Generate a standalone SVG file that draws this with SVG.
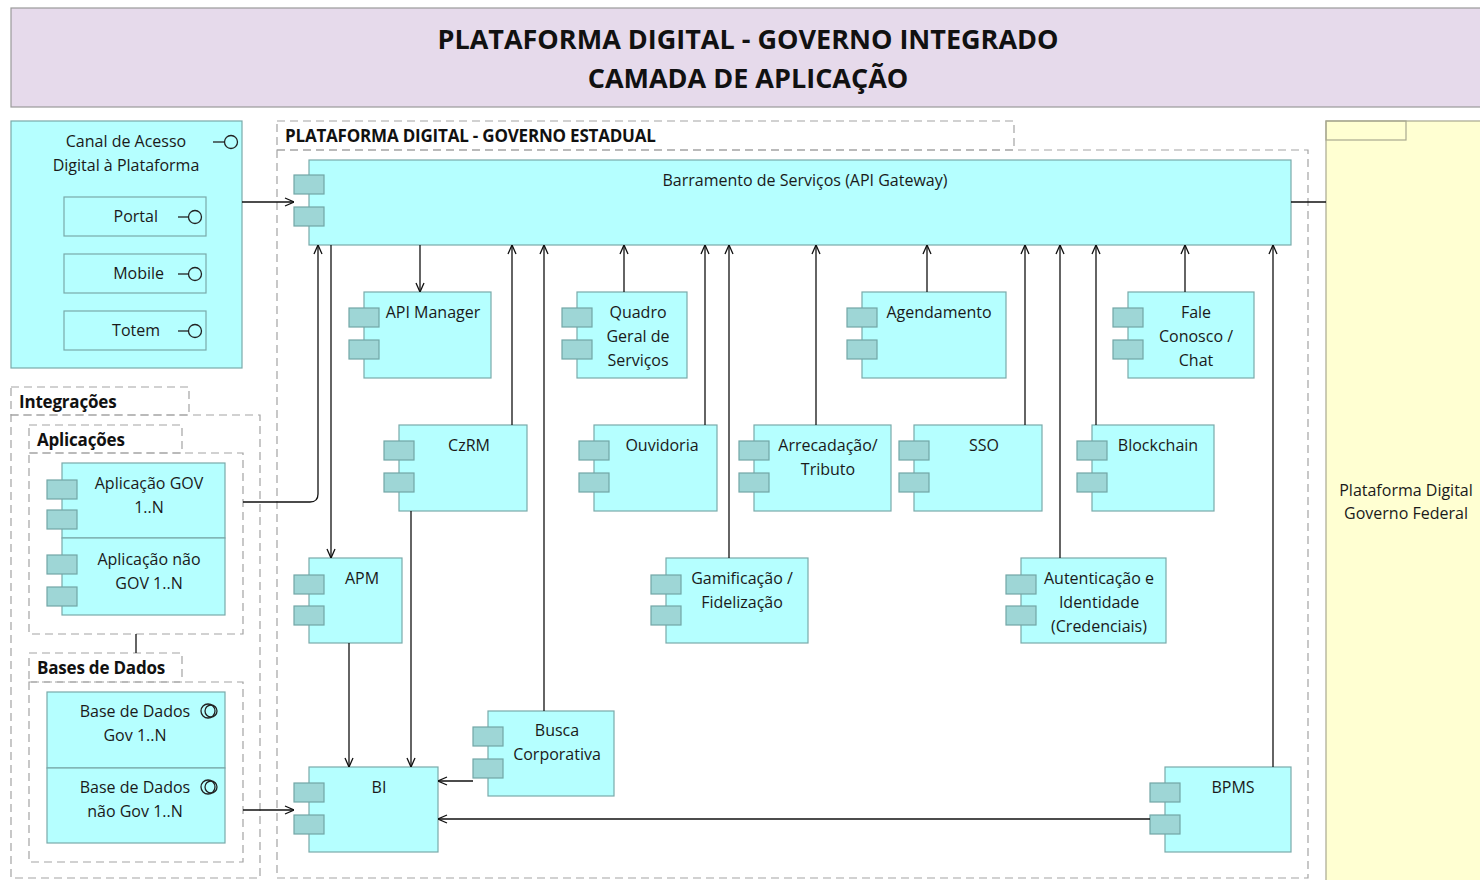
<svg xmlns="http://www.w3.org/2000/svg" width="1480" height="880" viewBox="0 0 1480 880">
<style>
text{font-family:"Open Sans","Noto Sans","DejaVu Sans",sans-serif;font-size:16px;fill:#1a1a1a}
.t{text-anchor:middle}
.title{font-size:27px;font-weight:bold;text-anchor:middle;fill:#111}
.glabel{font-size:17px;font-weight:bold;letter-spacing:-0.2px;fill:#111}
.node{fill:#B5FFFF;stroke:#7AAAAA;stroke-width:1.2}
.tab{fill:#9ED6D6;stroke:#72A6A6;stroke-width:1.2}
.sub{fill:#B5FFFF;stroke:#7AAAAA;stroke-width:1.2}
.grp{fill:none;stroke:#A3A3A3;stroke-width:1.2;stroke-dasharray:8,5}
.ico{fill:none;stroke:#222;stroke-width:1.3}
.c{fill:none;stroke:#111;stroke-width:1.3}
</style>
<defs>
<marker id="arr" viewBox="0 0 10 10" refX="10" refY="5" markerWidth="10" markerHeight="10" markerUnits="userSpaceOnUse" orient="auto">
<path d="M1,1 L10,5 L1,9" fill="none" stroke="#111" stroke-width="1.3"/>
</marker>
</defs>
<rect width="1480" height="880" fill="#fff"/>

<g id="title">
<rect x="11" y="8" width="1480" height="99" fill="#E6DAEB" stroke="#9A9A9A" stroke-width="1.2"/>
<text class="title" x="748" y="49">PLATAFORMA DIGITAL - GOVERNO INTEGRADO</text>
<text class="title" x="748" y="88">CAMADA DE APLICAÇÃO</text>
</g>

<g id="canal">
<rect x="11" y="121" width="231" height="247" class="node"/>
<text class="t" x="126" y="147">Canal de Acesso</text>
<text class="t" x="126" y="171">Digital à Plataforma</text>
<path class="ico" d="M213,142 H224"/><circle class="ico" cx="231" cy="142" r="6.5"/>
</g>
<g id="portal">
<rect x="64" y="197" width="142" height="39" class="sub"/>
<text x="158" y="222" text-anchor="end">Portal</text>
<path class="ico" d="M178,217 H188"/><circle class="ico" cx="195" cy="217" r="6.5"/>
</g>
<g id="mobile">
<rect x="64" y="254" width="142" height="39" class="sub"/>
<text x="164" y="279" text-anchor="end">Mobile</text>
<path class="ico" d="M178,274 H188"/><circle class="ico" cx="195" cy="274" r="6.5"/>
</g>
<g id="totem">
<rect x="64" y="311" width="142" height="39" class="sub"/>
<text x="160" y="336" text-anchor="end">Totem</text>
<path class="ico" d="M178,331 H188"/><circle class="ico" cx="195" cy="331" r="6.5"/>
</g>

<g id="integracoes">
<rect x="11" y="387" width="178" height="28" class="grp"/>
<rect x="11" y="415" width="249" height="463" class="grp"/>
<text class="glabel" x="19" y="408">Integrações</text>
</g>
<g id="aplicacoes">
<rect x="29" y="425" width="153" height="28" class="grp"/>
<rect x="29" y="453" width="214" height="181" class="grp"/>
<text class="glabel" x="37" y="446">Aplicações</text>
</g>
<g id="app-gov">
<rect x="62" y="463" width="163" height="75" class="node"/>
<rect x="47" y="480" width="30" height="19" class="tab"/>
<rect x="47" y="510" width="30" height="19" class="tab"/>
<text class="t" x="149" y="489">Aplicação GOV</text>
<text class="t" x="149" y="513">1..N</text>
</g>
<g id="app-nao-gov">
<rect x="62" y="538" width="163" height="77" class="node"/>
<rect x="47" y="555" width="30" height="19" class="tab"/>
<rect x="47" y="587" width="30" height="19" class="tab"/>
<text class="t" x="149" y="565">Aplicação não</text>
<text class="t" x="149" y="589">GOV 1..N</text>
</g>
<g id="bases">
<rect x="29" y="653" width="153" height="29" class="grp"/>
<rect x="29" y="682" width="214" height="180" class="grp"/>
<text class="glabel" x="37" y="674">Bases de Dados</text>
</g>
<g id="bd-gov">
<rect x="47" y="692" width="178" height="76" class="node"/>
<text class="t" x="135" y="717">Base de Dados</text>
<text class="t" x="135" y="741">Gov 1..N</text>
<circle class="ico" cx="208" cy="711" r="7"/><circle class="ico" cx="211" cy="711" r="6"/>
</g>
<g id="bd-nao-gov">
<rect x="47" y="768" width="178" height="75" class="node"/>
<text class="t" x="135" y="793">Base de Dados</text>
<text class="t" x="135" y="817">não Gov 1..N</text>
<circle class="ico" cx="208" cy="787" r="7"/><circle class="ico" cx="211" cy="787" r="6"/>
</g>

<g id="estadual">
<rect x="277" y="121" width="737" height="29" class="grp"/>
<rect x="277" y="150" width="1031" height="728" class="grp"/>
<text class="glabel" x="285" y="142">PLATAFORMA DIGITAL - GOVERNO ESTADUAL</text>
</g>

<g id="federal">
<rect x="1326" y="121" width="170" height="770" fill="#FFFFD2" stroke="#A8A890" stroke-width="1.2"/>
<rect x="1326" y="121" width="80" height="19" fill="none" stroke="#A8A890" stroke-width="1.2"/>
<text class="t" x="1406" y="496">Plataforma Digital</text>
<text class="t" x="1406" y="519">Governo Federal</text>
</g>

<g id="barramento">
<rect x="309" y="160" width="982" height="85" class="node"/>
<rect x="294" y="175" width="30" height="19" class="tab"/>
<rect x="294" y="207" width="30" height="19" class="tab"/>
<text class="t" x="805" y="186">Barramento de Serviços (API Gateway)</text>
</g>

<g id="api-manager">
<rect x="364" y="292" width="127" height="86" class="node"/>
<rect x="349" y="308" width="30" height="19" class="tab"/>
<rect x="349" y="340" width="30" height="19" class="tab"/>
<text class="t" x="433" y="318">API Manager</text>
</g>
<g id="quadro">
<rect x="577" y="292" width="110" height="86" class="node"/>
<rect x="562" y="308" width="30" height="19" class="tab"/>
<rect x="562" y="340" width="30" height="19" class="tab"/>
<text class="t" x="638" y="318">Quadro</text>
<text class="t" x="638" y="342">Geral de</text>
<text class="t" x="638" y="366">Serviços</text>
</g>
<g id="agendamento">
<rect x="862" y="292" width="144" height="86" class="node"/>
<rect x="847" y="308" width="30" height="19" class="tab"/>
<rect x="847" y="340" width="30" height="19" class="tab"/>
<text class="t" x="939" y="318">Agendamento</text>
</g>
<g id="fale">
<rect x="1128" y="292" width="126" height="86" class="node"/>
<rect x="1113" y="308" width="30" height="19" class="tab"/>
<rect x="1113" y="340" width="30" height="19" class="tab"/>
<text class="t" x="1196" y="318">Fale</text>
<text class="t" x="1196" y="342">Conosco /</text>
<text class="t" x="1196" y="366">Chat</text>
</g>

<g id="czrm">
<rect x="399" y="425" width="128" height="86" class="node"/>
<rect x="384" y="441" width="30" height="19" class="tab"/>
<rect x="384" y="473" width="30" height="19" class="tab"/>
<text class="t" x="469" y="451">CzRM</text>
</g>
<g id="ouvidoria">
<rect x="594" y="425" width="123" height="86" class="node"/>
<rect x="579" y="441" width="30" height="19" class="tab"/>
<rect x="579" y="473" width="30" height="19" class="tab"/>
<text class="t" x="662" y="451">Ouvidoria</text>
</g>
<g id="arrecadacao">
<rect x="754" y="425" width="137" height="86" class="node"/>
<rect x="739" y="441" width="30" height="19" class="tab"/>
<rect x="739" y="473" width="30" height="19" class="tab"/>
<text class="t" x="828" y="451">Arrecadação/</text>
<text class="t" x="828" y="475">Tributo</text>
</g>
<g id="sso">
<rect x="914" y="425" width="128" height="86" class="node"/>
<rect x="899" y="441" width="30" height="19" class="tab"/>
<rect x="899" y="473" width="30" height="19" class="tab"/>
<text class="t" x="984" y="451">SSO</text>
</g>
<g id="blockchain">
<rect x="1092" y="425" width="122" height="86" class="node"/>
<rect x="1077" y="441" width="30" height="19" class="tab"/>
<rect x="1077" y="473" width="30" height="19" class="tab"/>
<text class="t" x="1158" y="451">Blockchain</text>
</g>

<g id="apm">
<rect x="309" y="558" width="93" height="85" class="node"/>
<rect x="294" y="575" width="30" height="19" class="tab"/>
<rect x="294" y="606" width="30" height="19" class="tab"/>
<text class="t" x="362" y="584">APM</text>
</g>
<g id="gamificacao">
<rect x="666" y="558" width="142" height="85" class="node"/>
<rect x="651" y="575" width="30" height="19" class="tab"/>
<rect x="651" y="606" width="30" height="19" class="tab"/>
<text class="t" x="742" y="584">Gamificação /</text>
<text class="t" x="742" y="608">Fidelização</text>
</g>
<g id="autenticacao">
<rect x="1021" y="558" width="145" height="85" class="node"/>
<rect x="1006" y="575" width="30" height="19" class="tab"/>
<rect x="1006" y="606" width="30" height="19" class="tab"/>
<text class="t" x="1099" y="584">Autenticação e</text>
<text class="t" x="1099" y="608">Identidade</text>
<text class="t" x="1099" y="632">(Credenciais)</text>
</g>

<g id="busca">
<rect x="488" y="711" width="126" height="85" class="node"/>
<rect x="473" y="727" width="30" height="19" class="tab"/>
<rect x="473" y="759" width="30" height="19" class="tab"/>
<text class="t" x="557" y="736">Busca</text>
<text class="t" x="557" y="760">Corporativa</text>
</g>
<g id="bi">
<rect x="309" y="767" width="129" height="85" class="node"/>
<rect x="294" y="783" width="30" height="19" class="tab"/>
<rect x="294" y="815" width="30" height="19" class="tab"/>
<text class="t" x="379" y="793">BI</text>
</g>
<g id="bpms">
<rect x="1165" y="767" width="126" height="85" class="node"/>
<rect x="1150" y="783" width="30" height="19" class="tab"/>
<rect x="1150" y="815" width="30" height="19" class="tab"/>
<text class="t" x="1233" y="793">BPMS</text>
</g>

<g id="connectors">
<path class="c" d="M242,202 H294" marker-end="url(#arr)"/>
<path class="c" d="M243,502 H310 Q318,502 318,494 V245" marker-end="url(#arr)"/>
<path class="c" d="M331,245 V558" marker-end="url(#arr)"/>
<path class="c" d="M420,245 V292" marker-end="url(#arr)"/>
<path class="c" d="M512,425 V245" marker-end="url(#arr)"/>
<path class="c" d="M544,711 V245" marker-end="url(#arr)"/>
<path class="c" d="M624,292 V245" marker-end="url(#arr)"/>
<path class="c" d="M705,425 V245" marker-end="url(#arr)"/>
<path class="c" d="M729,558 V245" marker-end="url(#arr)"/>
<path class="c" d="M816,425 V245" marker-end="url(#arr)"/>
<path class="c" d="M927,292 V245" marker-end="url(#arr)"/>
<path class="c" d="M1025,425 V245" marker-end="url(#arr)"/>
<path class="c" d="M1060,558 V245" marker-end="url(#arr)"/>
<path class="c" d="M1096,425 V245" marker-end="url(#arr)"/>
<path class="c" d="M1185,292 V245" marker-end="url(#arr)"/>
<path class="c" d="M1273,767 V245" marker-end="url(#arr)"/>
<path class="c" d="M1291,202 H1326"/>
<path class="c" d="M349,643 V767" marker-end="url(#arr)"/>
<path class="c" d="M411,511 V767" marker-end="url(#arr)"/>
<path class="c" d="M473,781 H438" marker-end="url(#arr)"/>
<path class="c" d="M1150,819 H438" marker-end="url(#arr)"/>
<path class="c" d="M243,810 H294" marker-end="url(#arr)"/>
<path class="c" d="M136,634 V653"/>
</g>
</svg>
